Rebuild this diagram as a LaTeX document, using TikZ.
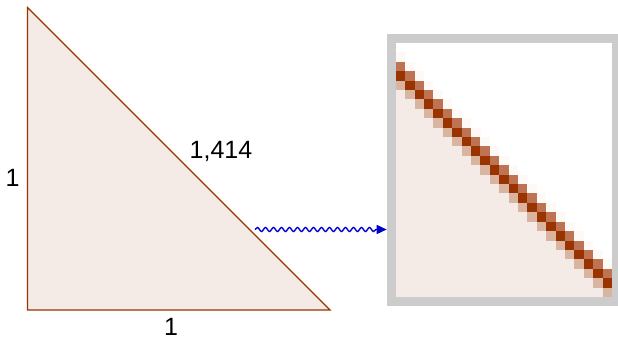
\documentclass[tikz,border=0pt]{standalone}
\usepackage{fontspec}
\setmainfont{Liberation Sans}
\usetikzlibrary{decorations.pathmorphing,arrows.meta}
\definecolor{trifill}{HTML}{F5EBE6}
\definecolor{tristroke}{HTML}{993300}
\definecolor{pxdark}{HTML}{993300}
\definecolor{pxmed}{HTML}{BE7352}
\definecolor{pxlight}{HTML}{D8B4A1}
\definecolor{pxfaint}{HTML}{FCF9F7}
\definecolor{boxgray}{HTML}{CCCCCC}
\definecolor{arrowblue}{HTML}{0000CC}
\tikzset{
  lbl/.style={font=\fontsize{25}{29}\selectfont, inner sep=0pt, text=black},
  wavy/.style={draw=arrowblue, line width=1.4pt, decorate,
    decoration={snake, amplitude=2pt, segment length=8pt, post length=9pt},
    -{Triangle[length=10pt,width=9pt]}},
  framebox/.style={draw=boxgray, line width=9pt, fill=white, minimum width=225.6pt, minimum height=262.8pt, inner sep=0pt}
}
\begin{document}
\begin{tikzpicture}[x=1pt,y=-1pt]
\useasboundingbox (0,0) rectangle (618,339);
% triangle
\coordinate (A) at (27.5,7.5);
\coordinate (B) at (27.5,310);
\coordinate (C) at (330,310);
\filldraw[fill=trifill, draw=tristroke, line width=1.1pt, line join=miter] (A) -- (B) -- (C) -- cycle;
\node[lbl, anchor=base] (l1) at (12.5,186.5) {1};
\node[lbl, anchor=base] (l2) at (221,158.5) {1,414};
\node[lbl, anchor=base] (l3) at (171,335) {1};
% magnified box
\node[framebox] (zoom) at (504,169.8) {};
\pgfmathsetmacro{\cx}{395.7}
\pgfmathsetmacro{\cy}{42.9}
\pgfmathsetmacro{\cs}{9.41}
\foreach \i in {0,...,22}{
  \pgfmathsetmacro{\xa}{\cx+\i*\cs}
  \pgfmathsetmacro{\xb}{\xa+\cs+0.15}
  \fill[pxfaint] (\xa,{\cy+(\i+1)*\cs}) rectangle (\xb,{\cy+(\i+2)*\cs});
  \fill[pxmed] (\xa,{\cy+(\i+2)*\cs}) rectangle (\xb,{\cy+(\i+3)*\cs+0.1});
  \fill[pxdark] (\xa,{\cy+(\i+3)*\cs}) rectangle (\xb,{\cy+(\i+4)*\cs+0.1});
  \fill[pxlight] (\xa,{\cy+(\i+4)*\cs}) rectangle (\xb,{min(\cy+(\i+5)*\cs+0.1,296.7)});
  \ifnum\i<22
    \fill[trifill] (\xa,{\cy+(\i+5)*\cs}) rectangle (\xb,296.7);
  \fi
}
% redraw frame on top to hide overlap
\draw[boxgray, line width=9pt] (zoom.south west) ++(4.5,-4.5) rectangle ([shift={(-4.5,4.5)}]zoom.north east);
% arrow
\coordinate (s) at (255,229.5);
\draw[wavy] (s) -- (s -| zoom.west);
\end{tikzpicture}
\end{document}
